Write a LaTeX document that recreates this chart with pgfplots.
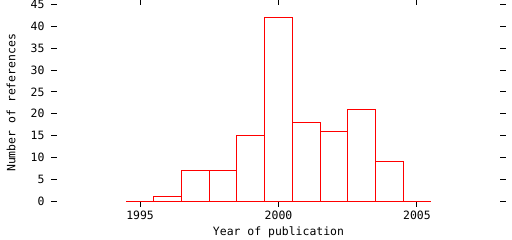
\documentclass[border=0pt]{standalone}
\usepackage{fontspec}
\setmainfont{DejaVu Sans Mono}
\usepackage{pgfplots}
\pgfplotsset{compat=1.18}
\begin{document}
\begin{tikzpicture}
\path[use as bounding box] (-57bp,-39bp) rectangle (455bp,201bp);
\begin{axis}[
  at={(0,0)}, anchor=south west,
  scale only axis, clip=false,
  width=443bp, height=196.3bp,
  xmin=1992, xmax=2008,
  ymin=0, ymax=45,
  axis line style={draw=none},
  xtick={1995,2000,2005},
  ytick={0,5,...,45},
  tick align=outside,
  major tick length=6bp,
  tick style={black, line width=1bp},
  xtick pos=both, ytick pos=both,
  xticklabel pos=lower, yticklabel pos=left,
  yticklabel style={xshift=-3bp},
  /pgf/number format/assume math mode=true,
  /pgf/number format/1000 sep={},
  font=\fontsize{11.5}{13}\selectfont,
  xlabel={Year of publication},
  ylabel={Number of references},
  xlabel style={at={(axis description cs:0.5,-0.1732)}, anchor=base},
  ylabel style={at={(axis description cs:-0.0937,0.5)}, anchor=base},
]
\addplot[ybar, bar width=1, bar shift=0pt, draw=red, fill=none, line width=1bp] coordinates {
(1996,1) (1997,7) (1998,7) (1999,15) (2000,42)
(2001,18) (2002,16) (2003,21) (2004,9)
};
\addplot[red, line width=1bp, no marks, sharp plot] coordinates {
(1994.5,0) (2005.5,0)
};
\end{axis}
\end{tikzpicture}
\end{document}
